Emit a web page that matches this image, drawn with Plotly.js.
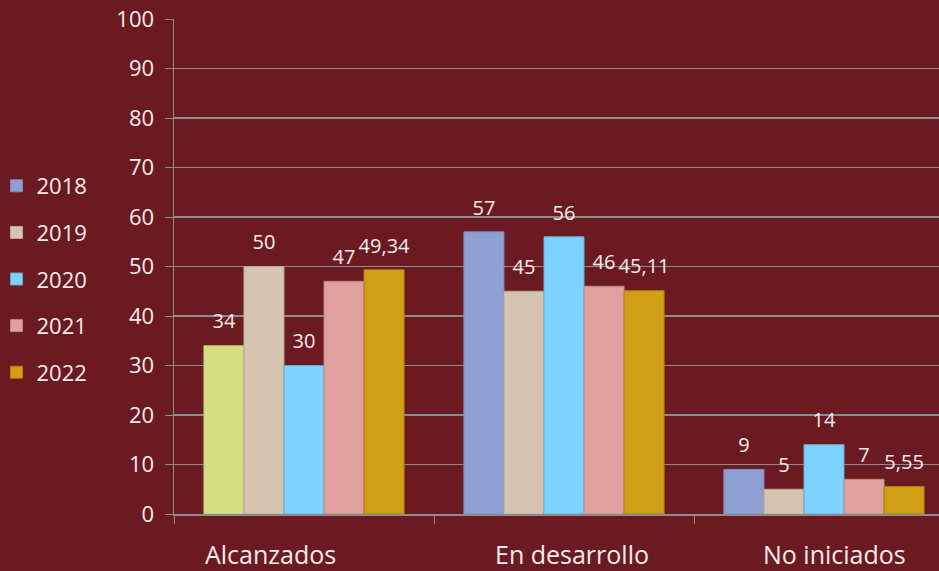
<!DOCTYPE html>
<html>
<head>
<meta charset="utf-8">
<script src="https://cdn.plot.ly/plotly-3.0.1.min.js"></script>
<style>
  html, body { margin: 0; padding: 0; background: #6C1A22; }
  #chart { width: 939px; height: 571px; }
</style>
</head>
<body>
<div id="chart"></div>
<script>
// Categories and yearly values
const categories = ['Alcanzados', 'En desarrollo', 'No iniciados'];
const years = ['2018', '2019', '2020', '2021', '2022'];
const v2018 = [34, 57, 9];
const v2019 = [50, 45, 5];
const v2020 = [30, 56, 14];
const v2021 = [47, 46, 7];
const v2022 = [49.34, 45.11, 5.55];
const labels2022 = ['49,34', '45,11', '5,55'];

const series = [v2018, v2019, v2020, v2021, v2022];

const colors = ['#8E9FD4', '#D6C3B0', '#7CD3FF', '#E0A19E', '#D09F16'];
const edges = ['#7F8DBE', '#B8A79A', '#68A8CC', '#C08884', '#B07F10'];
// the first 2018 bar (Alcanzados) is drawn light green in the original
const odd2018 = { color: '#D3DF82', edge: '#B6C070' };

const fontFam = '"Open Sans", Lato, "Noto Sans", sans-serif';
const txtColor = '#F4ECEC';

const traces = [];

series.forEach((vals, i) => {
    const group = 'g' + years[i];
    if (i === 0) {
        // split 2018 so the legend swatch stays blue, both halves share one slot
        traces.push({
            type: 'bar', name: years[i], offsetgroup: group, legendgroup: group,
            x: categories, y: vals.map((v, k) => k === 0 ? null : v),
            marker: { color: colors[i], line: { color: edges[i], width: 1 } }
        });
        traces.push({
            type: 'bar', name: years[i], offsetgroup: group, legendgroup: group, showlegend: false,
            x: categories, y: vals.map((v, k) => k === 0 ? v : null),
            marker: { color: odd2018.color, line: { color: odd2018.edge, width: 1 } }
        });
    } else {
        traces.push({
            type: 'bar', name: years[i], offsetgroup: group, legendgroup: group,
            x: categories, y: vals,
            marker: { color: colors[i], line: { color: edges[i], width: 1 } }
        });
    }
});

// value labels, grouped the same way as the bars
series.forEach((vals, i) => {
    traces.push({
        type: 'scatter', mode: 'markers+text', showlegend: false,
        offsetgroup: 'g' + years[i], legendgroup: 'g' + years[i],
        x: categories, y: vals,
        text: i === 4 ? labels2022 : vals.map(String),
        textposition: 'top center',
        cliponaxis: false,
        marker: { size: 18, opacity: 0 },
        textfont: { family: fontFam, size: 20, color: txtColor },
        hoverinfo: 'skip'
    });
});

const layout = {
    width: 939,
    height: 571,
    paper_bgcolor: '#6C1A22',
    plot_bgcolor: '#6C1A22',
    font: { family: fontFam, color: txtColor, size: 20 },
    margin: { l: 174, r: 0, t: 19, b: 57, autoexpand: false },
    barmode: 'group',
    bargap: 0.23,
    bargroupgap: 0,
    scattermode: 'group',
    scattergap: 0.23,
    showlegend: true,
    legend: {
        x: -0.232, xanchor: 'left',
        y: 0.705, yanchor: 'top',
        font: { family: fontFam, size: 22, color: txtColor },
        tracegroupgap: 15,
        traceorder: 'grouped',
        bgcolor: 'rgba(0,0,0,0)'
    },
    xaxis: {
        type: 'category',
        range: [-0.5, 2.4423],
        showticklabels: false,
        tickson: 'boundaries',
        ticks: 'outside',
        ticklen: 8,
        tickcolor: '#8C8C8C',
        showgrid: false,
        showline: true,
        linecolor: '#8C8C8C',
        linewidth: 2,
        zeroline: false,
        automargin: false,
        fixedrange: true
    },
    yaxis: {
        range: [0, 100],
        dtick: 10,
        ticks: 'outside',
        ticklen: 8,
        tickcolor: '#8C8C8C',
        tickfont: { family: fontFam, size: 22, color: txtColor },
        ticklabelstandoff: 6,
        showgrid: true,
        gridcolor: '#8C8C8C',
        gridwidth: 1.5,
        showline: true,
        linecolor: '#8C8C8C',
        linewidth: 1.5,
        zeroline: false,
        automargin: false,
        fixedrange: true
    },
    // category names sit a little off-centre in the original
    annotations: categories.map((c, i) => ({
        text: c,
        xref: 'x', yref: 'paper',
        x: i + [-0.127, 0.03, 0.04][i],
        y: -0.081, yanchor: 'middle',
        showarrow: false,
        font: { family: fontFam, size: 25, color: txtColor }
    }))
};

Plotly.newPlot('chart', traces, layout, { displayModeBar: false, staticPlot: true });
</script>
</body>
</html>
